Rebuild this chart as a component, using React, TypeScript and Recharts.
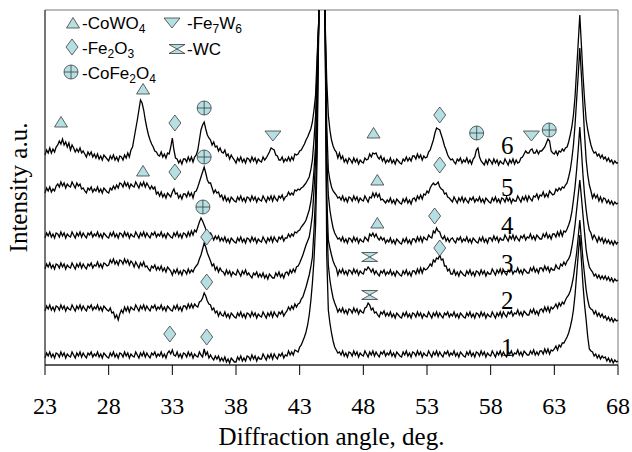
import React from 'react';
import { LineChart, Line, XAxis, YAxis, ReferenceDot, ReferenceArea, Legend } from 'recharts';

// Diffraction scans, sampled every 0.125 deg from 23 deg (8 readings per degree per row);
// intensities in offset a.u.
const ANGLE_START = 23;
const ANGLE_STEP = 0.125;

const SCAN_1 = [
  7, 12, 9, 13, 8, 11, 7, 12,
  11, 8, 13, 9, 12, 7, 11, 9,
  8, 13, 10, 7, 12, 9, 13, 8,
  12, 9, 7, 12, 10, 13, 8, 11,
  9, 13, 8, 11, 7, 12, 10, 8,
  7, 12, 9, 13, 8, 11, 7, 12,
  11, 8, 13, 9, 12, 7, 11, 9,
  8, 13, 10, 7, 12, 9, 13, 8,
  12, 9, 7, 12, 10, 13, 8, 11,
  9, 13, 8, 11, 7, 12, 14, 11,
  15, 10, 9, 13, 8, 11, 7, 12,
  11, 8, 13, 9, 12, 7, 11, 9,
  8, 13, 10, 8, 16, 10, 13, 7,
  10, 7, 5, 9, 6, 9, 4, 7,
  4, 8, 3, 6, 2, 7, 5, 3,
  3, 8, 5, 9, 4, 7, 4, 9,
  8, 5, 10, 6, 9, 4, 8, 6,
  6, 11, 8, 5, 10, 7, 11, 6,
  11, 8, 6, 11, 9, 12, 7, 10,
  9, 14, 10, 13, 10, 15, 14, 13,
  18, 20, 24, 28, 33, 40, 50, 64,
  82, 105, 140, 210, 345, 1200, 3000, 1200,
  345, 110, 55, 42, 32, 24, 18, 15,
  12, 13, 10, 14, 9, 12, 8, 13,
  12, 9, 14, 10, 13, 8, 12, 10,
  9, 14, 11, 8, 13, 10, 14, 9,
  13, 10, 8, 13, 11, 14, 9, 12,
  10, 14, 9, 12, 8, 13, 11, 9,
  8, 13, 10, 14, 9, 12, 8, 13,
  12, 9, 14, 10, 13, 8, 12, 10,
  9, 14, 11, 8, 13, 10, 14, 9,
  13, 10, 8, 13, 11, 14, 9, 12,
  10, 14, 9, 12, 8, 13, 11, 9,
  8, 13, 10, 14, 9, 12, 8, 13,
  12, 9, 14, 10, 13, 8, 12, 10,
  9, 14, 11, 8, 13, 10, 14, 9,
  13, 10, 8, 13, 11, 14, 9, 12,
  11, 15, 10, 13, 9, 14, 12, 10,
  10, 14, 11, 15, 10, 13, 10, 14,
  14, 11, 16, 12, 16, 11, 15, 14,
  16, 19, 15, 20, 18, 22, 22, 25,
  28, 32, 38, 45, 55, 70, 90, 110,
  130, 105, 80, 60, 45, 28, 16, 14,
  13, 9, 11, 7, 10, 6, 9, 7,
  8, 4, 7, 3, 6, 2, 5, 3,
  4,
];

const SCAN_2 = [
  54, 59, 56, 60, 55, 58, 54, 59,
  58, 55, 60, 56, 59, 54, 58, 56,
  55, 60, 57, 54, 59, 56, 60, 55,
  59, 56, 54, 59, 57, 60, 55, 58,
  56, 60, 55, 58, 54, 59, 57, 55,
  54, 57, 52, 53, 47, 50, 45, 51,
  55, 52, 58, 54, 58, 53, 58, 56,
  55, 60, 57, 54, 59, 56, 60, 55,
  59, 56, 54, 59, 57, 60, 55, 58,
  56, 60, 55, 58, 54, 59, 57, 55,
  54, 59, 56, 60, 55, 58, 54, 59,
  59, 56, 61, 57, 61, 57, 61, 59,
  58, 63, 64, 67, 72, 69, 64, 61,
  60, 55, 57, 52, 54, 49, 53, 50,
  49, 53, 48, 51, 47, 52, 50, 48,
  47, 52, 49, 53, 48, 51, 47, 52,
  51, 48, 53, 49, 52, 47, 51, 49,
  48, 53, 50, 47, 52, 49, 53, 48,
  53, 50, 48, 53, 51, 54, 49, 52,
  54, 58, 55, 59, 56, 61, 58, 61,
  62, 66, 68, 73, 78, 84, 90, 98,
  108, 135, 170, 240, 345, 1200, 3000, 1200,
  345, 150, 100, 85, 75, 67, 62, 58,
  53, 56, 53, 57, 52, 55, 51, 56,
  55, 52, 57, 53, 56, 51, 55, 53,
  52, 57, 58, 62, 60, 55, 57, 52,
  53, 50, 48, 53, 51, 54, 49, 52,
  49, 53, 48, 51, 47, 52, 50, 48,
  47, 52, 49, 53, 48, 51, 47, 52,
  51, 48, 53, 49, 52, 47, 51, 49,
  48, 53, 50, 47, 52, 49, 53, 48,
  52, 49, 47, 52, 50, 53, 48, 51,
  49, 53, 48, 51, 47, 52, 50, 48,
  47, 52, 49, 53, 48, 51, 47, 52,
  51, 48, 53, 49, 52, 47, 51, 49,
  48, 53, 50, 47, 52, 49, 53, 48,
  53, 50, 48, 53, 51, 54, 49, 52,
  51, 55, 50, 53, 49, 54, 52, 50,
  50, 55, 52, 56, 51, 54, 50, 55,
  56, 53, 58, 54, 58, 53, 58, 56,
  58, 61, 57, 62, 59, 63, 61, 65,
  68, 70, 74, 80, 88, 100, 112, 128,
  145, 125, 105, 90, 75, 65, 58, 56,
  55, 51, 54, 49, 52, 48, 51, 47,
  49, 45, 48, 44, 47, 43, 46, 44,
  45,
];

const SCAN_3 = [
  96, 101, 98, 102, 97, 100, 96, 101,
  100, 97, 102, 98, 101, 96, 100, 98,
  97, 102, 99, 96, 101, 98, 102, 97,
  101, 98, 96, 101, 99, 102, 97, 100,
  99, 103, 98, 101, 97, 102, 101, 99,
  100, 105, 102, 106, 101, 104, 100, 105,
  104, 101, 106, 102, 105, 100, 104, 102,
  98, 103, 100, 97, 102, 99, 103, 98,
  99, 96, 94, 99, 97, 100, 95, 98,
  95, 99, 94, 97, 93, 98, 96, 94,
  90, 95, 92, 96, 91, 94, 90, 95,
  94, 91, 96, 92, 95, 93, 97, 99,
  101, 106, 110, 116, 122, 118, 112, 108,
  104, 99, 101, 95, 98, 93, 97, 94,
  93, 90, 95, 91, 94, 89, 93, 91,
  90, 95, 92, 89, 94, 91, 95, 90,
  92, 89, 87, 92, 90, 93, 88, 91,
  88, 92, 87, 90, 86, 91, 89, 87,
  87, 92, 89, 93, 88, 91, 87, 92,
  93, 90, 95, 92, 96, 93, 98, 99,
  102, 106, 110, 115, 120, 124, 128, 138,
  150, 175, 205, 270, 345, 1200, 3000, 1200,
  345, 170, 125, 117, 110, 104, 100, 97,
  90, 95, 92, 96, 91, 94, 90, 95,
  94, 91, 96, 92, 95, 90, 94, 92,
  91, 96, 95, 98, 96, 93, 96, 91,
  94, 91, 89, 94, 92, 95, 90, 93,
  91, 95, 90, 93, 89, 94, 92, 90,
  89, 94, 91, 95, 90, 93, 89, 94,
  94, 91, 96, 92, 97, 92, 97, 95,
  96, 98, 101, 99, 105, 103, 107, 106,
  110, 105, 106, 99, 99, 94, 96, 91,
  91, 95, 90, 93, 89, 94, 92, 90,
  89, 94, 91, 95, 90, 93, 89, 94,
  93, 90, 95, 91, 94, 89, 93, 91,
  91, 96, 93, 90, 95, 92, 96, 91,
  95, 92, 90, 95, 93, 96, 91, 94,
  93, 97, 92, 95, 91, 96, 94, 92,
  92, 97, 94, 98, 93, 96, 92, 97,
  97, 94, 99, 95, 98, 93, 97, 95,
  95, 100, 97, 96, 101, 99, 103, 100,
  104, 106, 110, 118, 128, 140, 155, 170,
  185, 168, 150, 132, 115, 105, 98, 95,
  93, 89, 91, 87, 90, 86, 89, 86,
  89, 85, 88, 84, 87, 83, 86, 84,
  85,
];

const SCAN_4 = [
  127, 132, 129, 133, 128, 131, 127, 132,
  131, 128, 133, 129, 132, 127, 131, 129,
  128, 133, 130, 127, 132, 129, 133, 128,
  132, 129, 127, 132, 130, 133, 128, 131,
  129, 133, 128, 131, 127, 132, 130, 128,
  127, 132, 129, 133, 128, 131, 127, 132,
  131, 128, 133, 129, 132, 127, 131, 129,
  128, 133, 130, 127, 132, 129, 133, 128,
  132, 129, 127, 132, 130, 133, 128, 131,
  129, 133, 128, 131, 127, 132, 130, 128,
  127, 132, 129, 133, 128, 131, 127, 132,
  131, 128, 133, 129, 134, 130, 135, 133,
  138, 143, 147, 144, 140, 136, 133, 131,
  132, 129, 125, 129, 126, 129, 124, 127,
  124, 128, 123, 126, 122, 127, 125, 123,
  122, 127, 124, 128, 123, 126, 122, 127,
  126, 123, 128, 124, 127, 122, 126, 124,
  123, 128, 125, 122, 127, 124, 128, 123,
  128, 125, 123, 128, 126, 129, 124, 127,
  127, 131, 128, 131, 129, 133, 132, 134,
  135, 138, 140, 142, 145, 150, 155, 163,
  175, 195, 220, 280, 345, 1200, 3000, 1200,
  345, 210, 170, 155, 145, 137, 132, 129,
  126, 127, 124, 128, 123, 126, 122, 127,
  126, 123, 128, 124, 127, 122, 126, 124,
  123, 128, 126, 124, 131, 129, 132, 128,
  131, 127, 125, 128, 125, 127, 122, 125,
  123, 127, 122, 125, 121, 126, 124, 122,
  121, 126, 123, 127, 122, 125, 121, 126,
  126, 123, 128, 124, 128, 123, 128, 126,
  125, 130, 128, 127, 134, 132, 137, 134,
  133, 128, 126, 129, 124, 127, 123, 126,
  127, 124, 122, 127, 125, 128, 123, 126,
  124, 128, 123, 126, 122, 127, 125, 123,
  122, 127, 124, 128, 123, 126, 122, 127,
  127, 124, 129, 125, 128, 123, 127, 125,
  125, 130, 127, 124, 129, 126, 130, 125,
  129, 126, 124, 129, 127, 130, 125, 128,
  127, 131, 126, 129, 125, 130, 128, 126,
  126, 131, 128, 132, 127, 130, 126, 131,
  131, 128, 133, 129, 134, 129, 134, 133,
  136, 140, 145, 153, 165, 178, 195, 215,
  238, 215, 190, 170, 155, 143, 135, 132,
  126, 130, 127, 123, 128, 124, 127, 122,
  126, 122, 125, 121, 124, 120, 124, 121,
  123,
];

const SCAN_5 = [
  172, 177, 174, 178, 173, 176, 174, 179,
  181, 178, 183, 179, 182, 177, 181, 179,
  178, 183, 180, 177, 182, 179, 181, 176,
  177, 174, 172, 177, 175, 178, 173, 176,
  174, 178, 173, 176, 172, 177, 175, 173,
  172, 177, 175, 179, 176, 180, 177, 182,
  181, 178, 183, 179, 182, 177, 181, 179,
  178, 183, 180, 177, 182, 179, 183, 178,
  182, 179, 176, 179, 176, 178, 171, 173,
  169, 173, 168, 171, 167, 172, 170, 168,
  173, 176, 171, 172, 167, 170, 166, 171,
  171, 168, 173, 169, 172, 167, 173, 174,
  178, 183, 188, 193, 198, 192, 185, 182,
  182, 177, 172, 175, 172, 173, 168, 170,
  165, 169, 164, 167, 163, 168, 166, 164,
  163, 168, 165, 169, 164, 167, 163, 168,
  167, 164, 169, 165, 168, 163, 167, 165,
  164, 169, 166, 163, 168, 165, 169, 164,
  169, 166, 164, 169, 167, 170, 165, 168,
  169, 173, 170, 172, 170, 175, 174, 176,
  175, 177, 178, 180, 182, 185, 188, 195,
  205, 225, 250, 300, 345, 1200, 3000, 1200,
  345, 240, 195, 185, 178, 174, 172, 170,
  167, 168, 165, 169, 164, 167, 163, 168,
  167, 164, 169, 165, 168, 163, 167, 165,
  164, 169, 166, 163, 168, 167, 172, 168,
  172, 168, 171, 165, 166, 164, 162, 165,
  163, 167, 162, 165, 161, 166, 164, 162,
  161, 166, 163, 167, 162, 165, 161, 166,
  167, 164, 169, 166, 170, 166, 171, 170,
  174, 172, 177, 180, 182, 180, 181, 183,
  178, 176, 175, 171, 172, 168, 167, 165,
  163, 168, 165, 162, 167, 164, 168, 163,
  167, 164, 162, 167, 165, 168, 163, 166,
  164, 168, 163, 166, 162, 167, 165, 163,
  162, 167, 164, 168, 163, 166, 162, 167,
  166, 163, 168, 164, 167, 162, 166, 164,
  164, 169, 166, 163, 168, 165, 169, 164,
  169, 166, 164, 169, 168, 171, 166, 170,
  169, 173, 168, 171, 168, 174, 172, 170,
  171, 176, 174, 177, 175, 178, 177, 180,
  182, 188, 195, 206, 220, 240, 265, 290,
  317, 290, 260, 230, 205, 190, 180, 174,
  167, 171, 167, 170, 164, 168, 163, 167,
  166, 162, 165, 161, 164, 160, 163, 161,
  162,
];

const SCAN_6 = [
  210, 215, 212, 217, 212, 216, 213, 218,
  220, 224, 221, 226, 220, 223, 218, 222,
  215, 220, 217, 213, 216, 213, 217, 212,
  214, 211, 208, 213, 210, 213, 208, 211,
  207, 211, 206, 209, 205, 210, 208, 206,
  204, 209, 206, 210, 205, 208, 204, 209,
  208, 205, 210, 207, 212, 208, 215, 218,
  227, 236, 245, 255, 265, 262, 255, 245,
  237, 230, 225, 221, 218, 214, 213, 210,
  209, 213, 208, 211, 207, 212, 211, 218,
  227, 215, 207, 206, 202, 205, 201, 206,
  206, 203, 208, 204, 208, 203, 208, 210,
  215, 225, 235, 240, 243, 236, 230, 227,
  225, 220, 223, 218, 219, 214, 217, 213,
  212, 215, 209, 211, 206, 210, 207, 205,
  202, 207, 204, 208, 203, 206, 202, 207,
  206, 203, 208, 204, 207, 202, 206, 204,
  203, 208, 205, 207, 210, 213, 217, 216,
  215, 210, 209, 205, 205, 208, 203, 206,
  204, 208, 204, 208, 205, 211, 210, 211,
  214, 215, 218, 221, 225, 228, 232, 236,
  243, 255, 270, 310, 345, 1200, 3000, 1200,
  345, 285, 250, 235, 225, 219, 215, 213,
  207, 212, 206, 209, 203, 206, 202, 207,
  205, 202, 207, 203, 206, 201, 205, 203,
  202, 207, 205, 206, 211, 208, 212, 211,
  212, 208, 206, 209, 204, 207, 202, 205,
  203, 207, 202, 205, 201, 206, 204, 202,
  201, 206, 204, 208, 204, 207, 204, 209,
  209, 206, 211, 207, 210, 205, 209, 207,
  208, 213, 215, 220, 225, 232, 237, 236,
  235, 230, 225, 219, 215, 210, 207, 205,
  206, 203, 201, 206, 204, 207, 202, 205,
  203, 207, 202, 205, 201, 206, 208, 215,
  217, 208, 204, 202, 200, 205, 201, 206,
  204, 201, 206, 202, 205, 200, 204, 202,
  201, 206, 203, 200, 205, 202, 206, 201,
  205, 202, 203, 207, 208, 211, 214, 212,
  212, 215, 216, 212, 212, 215, 211, 214,
  214, 216, 218, 222, 226, 224, 214, 212,
  211, 214, 210, 214, 213, 216, 214, 217,
  218, 223, 230, 238, 250, 268, 295, 322,
  350, 320, 290, 265, 245, 235, 227, 220,
  215, 212, 213, 209, 211, 207, 210, 206,
  208, 204, 207, 203, 205, 201, 204, 202,
  202,
];

const SCANS = [SCAN_1, SCAN_2, SCAN_3, SCAN_4, SCAN_5, SCAN_6];
const SCAN_KEYS = ['s1', 's2', 's3', 's4', 's5', 's6'];

const ANGLE_TICKS = [23, 28, 33, 38, 43, 48, 53, 58, 63, 68];

// Phase reflections marked above the scans: [angle, level, phase]
type Phase = 'CoWO4' | 'Fe2O3' | 'CoFe2O4' | 'Fe7W6' | 'WC';
const PHASE_MARKS: [number, number, Phase][] = [
  [24.26, 243, 'CoWO4'],
  [30.7, 276, 'CoWO4'],
  [33.2, 242, 'Fe2O3'],
  [35.5, 257, 'CoFe2O4'],
  [40.9, 229, 'Fe7W6'],
  [48.8, 232, 'CoWO4'],
  [54.0, 250, 'Fe2O3'],
  [56.9, 232, 'CoFe2O4'],
  [61.2, 229, 'Fe7W6'],
  [62.6, 235, 'CoFe2O4'],
  [30.7, 194, 'CoWO4'],
  [33.2, 193, 'Fe2O3'],
  [35.5, 208, 'CoFe2O4'],
  [49.1, 185, 'CoWO4'],
  [54.0, 200, 'Fe2O3'],
  [35.4, 158, 'CoFe2O4'],
  [49.1, 142, 'CoWO4'],
  [53.6, 149, 'Fe2O3'],
  [35.7, 128, 'Fe2O3'],
  [48.5, 108, 'WC'],
  [54.0, 117, 'Fe2O3'],
  [35.7, 83, 'Fe2O3'],
  [48.5, 70, 'WC'],
  [32.8, 31, 'Fe2O3'],
  [35.7, 28, 'Fe2O3'],
];

// Sample numbers written beside each scan: [angle, level, text]
const SCAN_LABELS: [number, number, string][] = [
  [59.3, 220, '6'],
  [59.3, 178, '5'],
  [59.3, 140, '4'],
  [59.3, 102, '3'],
  [59.3, 65, '2'],
  [59.3, 18, '1'],
];

// Legend rows: phase, glyph centre, text start and baseline, text pieces (sub = subscript)
const LEGEND_ITEMS: { phase: Phase; gx: number; gy: number; tx: number; ty: number; parts: [string, boolean][] }[] = [
  { phase: 'CoWO4', gx: 73, gy: 23, tx: 82, ty: 29, parts: [['-CoWO', false], ['4', true]] },
  { phase: 'Fe7W6', gx: 172, gy: 23, tx: 187, ty: 29, parts: [['-Fe', false], ['7', true], ['W', false], ['6', true]] },
  { phase: 'Fe2O3', gx: 72, gy: 47, tx: 82, ty: 54, parts: [['-Fe', false], ['2', true], ['O', false], ['3', true]] },
  { phase: 'WC', gx: 177, gy: 49, tx: 187, ty: 55, parts: [['-WC', false]] },
  { phase: 'CoFe2O4', gx: 71, gy: 72, tx: 82, ty: 79, parts: [['-CoFe', false], ['2', true], ['O', false], ['4', true]] },
];

const rows = SCAN_1.map((_, i) => {
  const row: Record<string, number> = { angle: ANGLE_START + i * ANGLE_STEP };
  SCANS.forEach((scan, k) => {
    row[SCAN_KEYS[k]] = scan[i];
  });
  return row;
});

const SERIF = 'Liberation Serif, Tinos, Times New Roman, Times, DejaVu Serif, serif';
const SANS = 'Liberation Sans, Arimo, Arial, sans-serif';
const GLYPH_FILL = '#b5dfe2';
const GLYPH_EDGE = '#3c3c3c';

function PhaseGlyph({ phase, cx, cy }: { phase: Phase; cx: number; cy: number }) {
  const common = { fill: GLYPH_FILL, stroke: GLYPH_EDGE, strokeWidth: 0.8 };
  switch (phase) {
    case 'CoWO4':
      return <polygon {...common} points={`${cx},${cy - 5.5} ${cx + 6.5},${cy + 5} ${cx - 6.5},${cy + 5}`} />;
    case 'Fe7W6':
      return <polygon {...common} points={`${cx - 8},${cy - 5} ${cx + 8},${cy - 5} ${cx},${cy + 5}`} />;
    case 'Fe2O3':
      return <polygon {...common} points={`${cx},${cy - 8} ${cx + 6},${cy} ${cx},${cy + 8} ${cx - 6},${cy}`} />;
    case 'WC':
      return (
        <polygon
          {...common}
          points={`${cx - 8},${cy - 4.5} ${cx + 8},${cy - 4.5} ${cx},${cy} ${cx + 8},${cy + 4.5} ${cx - 8},${cy + 4.5} ${cx},${cy}`}
        />
      );
    case 'CoFe2O4':
    default:
      return (
        <g>
          <circle {...common} cx={cx} cy={cy} r={7} />
          <line x1={cx - 7} y1={cy} x2={cx + 7} y2={cy} stroke={GLYPH_EDGE} strokeWidth={0.8} />
          <line x1={cx} y1={cy - 7} x2={cx} y2={cy + 7} stroke={GLYPH_EDGE} strokeWidth={0.8} />
        </g>
      );
  }
}

function PhaseKey() {
  return (
    <svg width={250} height={90} style={{ display: 'block', overflow: 'visible' }}>
      {LEGEND_ITEMS.map((item) => (
        <g key={item.phase}>
          <PhaseGlyph phase={item.phase} cx={item.gx} cy={item.gy} />
          <text x={item.tx} y={item.ty} style={{ fontFamily: SANS, fontSize: 17 }} fill="#000">
            {item.parts.map(([t, sub], j) => {
              const prevSub = j > 0 && item.parts[j - 1][1];
              const dy = sub ? 4 : prevSub ? -4 : 0;
              return (
                <tspan key={j} dy={dy} style={{ fontSize: sub ? 12 : 17 }}>
                  {t}
                </tspan>
              );
            })}
          </text>
        </g>
      ))}
    </svg>
  );
}

const tickText = { fontFamily: SERIF, fontSize: 24 };
const titleText = { fontFamily: SERIF, fontSize: 25 };

export default function App() {
  return (
    <div style={{ position: 'absolute', left: 0, top: 0, fontFamily: SERIF }}>
      <LineChart width={632} height={452} data={rows} margin={{ top: 10, right: 14, left: 0, bottom: 27 }}>
        <XAxis
          dataKey="angle"
          type="number"
          domain={[23, 68]}
          ticks={ANGLE_TICKS}
          interval={0}
          tickSize={10}
          tickMargin={22}
          height={60}
          axisLine={{ stroke: '#000' }}
          tickLine={{ stroke: '#000' }}
          tick={{ fill: '#000', fontSize: 24, fontFamily: SERIF, style: tickText }}
          label={(props: any) => {
            const vb = props.viewBox;
            return (
              <text x={vb.x + vb.width / 2} y={vb.y + 80} textAnchor="middle" style={titleText} fill="#000">
                Diffraction angle, deg.
              </text>
            );
          }}
        />
        <YAxis
          type="number"
          domain={[0, 355]}
          allowDataOverflow
          width={45}
          tick={false}
          tickLine={false}
          axisLine={{ stroke: '#333' }}
          label={(props: any) => {
            const vb = props.viewBox;
            const x = vb.x + 27;
            const y = vb.y + vb.height / 2;
            return (
              <text x={x} y={y} transform={`rotate(-90 ${x} ${y})`} textAnchor="middle" style={titleText} fill="#000">
                Intensity a.u.
              </text>
            );
          }}
        />
        <ReferenceArea x1={23} x2={68} y1={0} y2={355} fill="none" stroke="#777" strokeWidth={1} />
        {SCAN_KEYS.map((key) => (
          <Line
            key={key}
            dataKey={key}
            type="linear"
            stroke="#000"
            strokeWidth={1.3}
            dot={false}
            activeDot={false}
            isAnimationActive={false}
          />
        ))}
        {PHASE_MARKS.map(([angle, level, phase], i) => (
          <ReferenceDot
            key={`m${i}`}
            x={angle}
            y={level}
            r={0}
            shape={(p: any) => <PhaseGlyph phase={phase} cx={p.cx} cy={p.cy} />}
          />
        ))}
        {SCAN_LABELS.map(([angle, level, text]) => (
          <ReferenceDot
            key={`n${text}`}
            x={angle}
            y={level}
            r={0}
            shape={(p: any) => (
              <text x={p.cx} y={p.cy} dy="0.35em" textAnchor="middle" style={{ fontFamily: SERIF, fontSize: 25 }} fill="#000">
                {text}
              </text>
            )}
          />
        ))}
        <Legend
          layout="horizontal"
          verticalAlign="middle"
          align="center"
          content={() => <PhaseKey />}
          wrapperStyle={{ left: 0, top: 0, width: 250, height: 90 }}
        />
      </LineChart>
    </div>
  );
}
